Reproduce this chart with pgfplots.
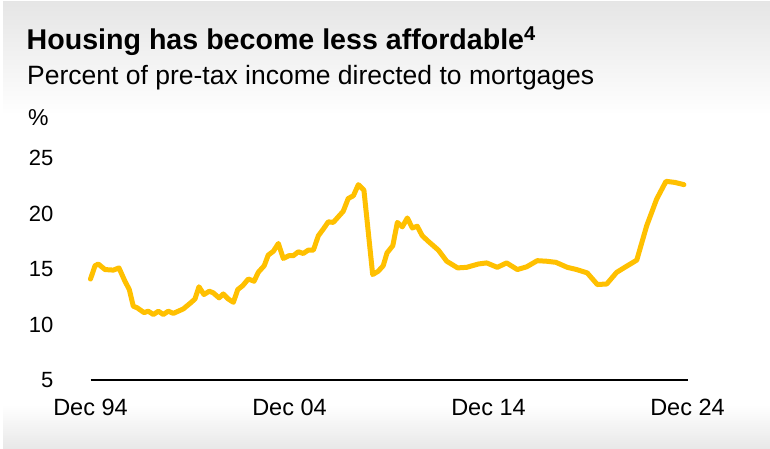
\documentclass[border=0pt]{standalone}
\usepackage{pgfplots}
\pgfplotsset{compat=1.18}
\usepackage{fontspec}
\setmainfont{Liberation Sans}
\definecolor{gold}{HTML}{FFC000}
\pgfplotstableread{
t v
0 14.1
0.23 15.3
0.39 15.45
0.73 14.95
1.15 14.9
1.43 15.1
1.73 13.9
1.95 13.15
2.15 11.65
2.35 11.5
2.69 11.07
2.90 11.2
3.16 10.9
3.41 11.2
3.66 10.9
3.91 11.2
4.16 11.0
4.66 11.4
5.0 11.9
5.25 12.3
5.45 13.4
5.70 12.7
5.97 13.0
6.17 12.85
6.46 12.4
6.67 12.75
6.92 12.3
7.18 12.0
7.40 13.15
7.65 13.5
7.93 14.1
8.22 13.9
8.43 14.7
8.73 15.3
8.93 16.25
9.19 16.6
9.44 17.3
9.69 15.95
9.97 16.2
10.19 16.2
10.44 16.55
10.69 16.4
10.94 16.7
11.20 16.7
11.45 18.0
11.70 18.6
11.95 19.25
12.20 19.2
12.45 19.7
12.70 20.2
12.95 21.35
13.21 21.6
13.46 22.6
13.74 22.1
14.18 14.5
14.46 14.8
14.71 15.3
14.90 16.45
15.19 17.1
15.42 19.2
15.67 18.8
15.92 19.6
16.17 18.7
16.42 18.85
16.67 18.0
16.97 17.5
17.48 16.7
17.90 15.7
18.45 15.1
18.90 15.15
19.49 15.45
19.91 15.55
20.44 15.15
20.91 15.55
21.45 14.95
21.92 15.2
22.45 15.75
22.92 15.7
23.39 15.6
23.96 15.15
24.43 14.95
24.96 14.65
25.47 13.6
25.94 13.65
26.44 14.7
26.94 15.25
27.45 15.8
27.95 18.9
28.45 21.3
28.92 22.9
29.37 22.8
29.82 22.6
}\housing
\begin{document}
\begin{tikzpicture}[x=1pt,y=1pt]
\useasboundingbox (0,0) rectangle (770,448);
\fill[white] (0,0) rectangle (770,448);
\shade[top color=black!10, bottom color=white] (3,333) rectangle (770,446);
\shade[top color=white, bottom color=black!9] (3,0) rectangle (770,43);
\node[anchor=base west, inner sep=0pt, font=\fontsize{28.6}{32}\selectfont\bfseries] at (26.5,398) {Housing has become less affordable\textsuperscript{4}};
\node[anchor=base west, inner sep=0pt, font=\fontsize{26.5}{30}\selectfont] at (27,363) {Percent of pre-tax income directed to mortgages};
\node[anchor=base west, inner sep=0pt, font=\fontsize{23}{27}\selectfont] at (28,323) {\%};
\begin{axis}[
  at={(90.5pt,68pt)}, anchor=south west,
  scale only axis, width=597pt, height=222pt,
  xmin=0, xmax=30, ymin=5, ymax=25,
  axis x line*=bottom, axis y line*=left,
  y axis line style={draw=none},
  x axis line style={black, line width=1.5pt},
  major tick length=0pt,
  xtick={0,10,20,30},
  xticklabels={Dec 94,Dec 04,Dec 14,Dec 24},
  ytick={5,10,15,20,25},
  /pgf/number format/assume math mode=true,
  xticklabel style={font=\fontsize{23.5}{27}\selectfont, anchor=base, inner sep=0pt, yshift=-35pt},
  yticklabel style={font=\fontsize{22}{26}\selectfont, anchor=east, inner sep=0pt, xshift=-37pt},
  clip=false,
]
\addplot[gold, line width=5pt, line join=round, line cap=round] table[x=t,y=v] {\housing};
\end{axis}
\end{tikzpicture}
\end{document}
